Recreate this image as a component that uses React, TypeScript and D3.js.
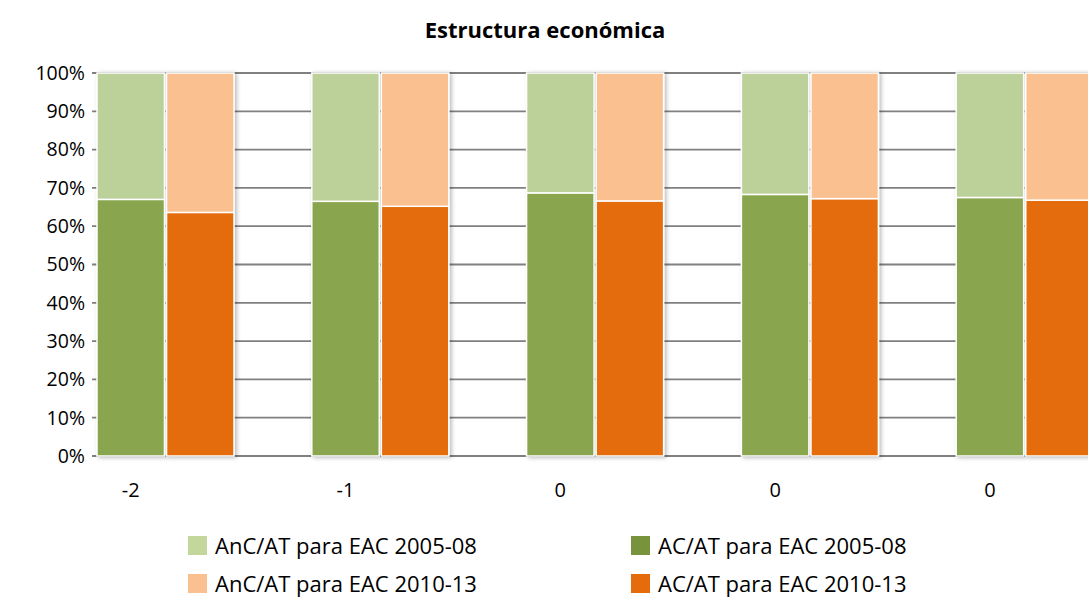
import React from "react";
import * as d3 from "d3";

const categories = ["-2", "-1", "0", "0", "0"];
const acAt0508 = [0.67, 0.665, 0.687, 0.683, 0.675];
const acAt1013 = [0.636, 0.652, 0.666, 0.672, 0.668];
const yTicks = [0, 0.1, 0.2, 0.3, 0.4, 0.5, 0.6, 0.7, 0.8, 0.9, 1.0];
const periods = ["2005-08", "2010-13"];
const legendItems = [
  { label: "AnC/AT para EAC 2005-08", color: "#C3D69B" },
  { label: "AC/AT para EAC 2005-08", color: "#77933C" },
  { label: "AnC/AT para EAC 2010-13", color: "#FAC090" },
  { label: "AC/AT para EAC 2010-13", color: "#E46C0A" },
];

const W = 1088;
const H = 606;
const FONT = "'Open Sans', sans-serif";

export default function App() {
  const left = 92;
  const step = 214.8;
  const x0 = d3
    .scaleBand<number>()
    .domain(categories.map((_, i) => i))
    .range([left, left + step * categories.length]);
  const x1 = d3.scaleBand<string>().domain(periods).range([5, 142]).paddingInner(0.03);
  const y = d3.scaleLinear().domain([0, 1]).range([456, 73]);

  const colors: Record<string, [string, string]> = {
    "2005-08": ["#89A54E", "#BCD099"],
    "2010-13": ["#E46C0A", "#FAC090"],
  };
  const values: Record<string, number[]> = { "2005-08": acAt0508, "2010-13": acAt1013 };

  const legendX = d3.scaleOrdinal<number, number>().domain([0, 1]).range([188, 631]);
  const legendY = d3.scaleOrdinal<number, number>().domain([0, 1]).range([536, 574]);

  return (
    <svg
      width={W}
      height={H}
      style={{ position: "absolute", left: 0, top: 0, background: "#fff" }}
      fontFamily={FONT}
    >
      <defs>
        <filter id="sh" x="-20%" y="-5%" width="140%" height="110%">
          <feDropShadow dx="2" dy="1" stdDeviation="2" floodColor="#000" floodOpacity="0.28" />
        </filter>
      </defs>
      <rect width={W} height={H} fill="#fff" />
      <text x={545} y={38} textAnchor="middle" fontWeight="bold" fontSize={22} fill="#000">
        Estructura económica
      </text>
      {yTicks.map((t) => (
        <g key={t}>
          <line x1={left} x2={W} y1={y(t)} y2={y(t)} stroke="#808080" strokeWidth={1.8} />
          <text x={85} y={y(t)} dy="0.35em" textAnchor="end" fontSize={19.5} fill="#000">
            {d3.format(".0%")(t)}
          </text>
        </g>
      ))}
      {categories.map((c, i) => (
        <g key={i} transform={`translate(${x0(i)},0)`}>
          {periods.map((p) => {
            const v = values[p][i];
            const bx = x1(p)!;
            const bw = x1.bandwidth();
            return (
              <g key={p} filter="url(#sh)">
                <rect x={bx} y={y(v)} width={bw} height={y(0) - y(v)} fill={colors[p][0]} stroke="#fff" strokeWidth={1.5} />
                <rect x={bx} y={y(1)} width={bw} height={y(v) - y(1)} fill={colors[p][1]} stroke="#fff" strokeWidth={1.5} />
              </g>
            );
          })}
          <text
            x={x1(periods[0])! + x1.bandwidth() / 2}
            y={497}
            textAnchor="middle"
            fontSize={20}
            fill="#000"
          >
            {c}
          </text>
        </g>
      ))}
      {legendItems.map((item, k) => {
        const col = k % 2;
        const row = Math.floor(k / 2);
        const lx = legendX(col);
        const ly = legendY(row);
        return (
          <g key={item.label}>
            <rect x={lx} y={ly} width={19} height={19} fill={item.color} />
            <text x={lx + 27} y={ly + 10} dy="0.35em" fontSize={22} fill="#000">
              {item.label}
            </text>
          </g>
        );
      })}
    </svg>
  );
}
